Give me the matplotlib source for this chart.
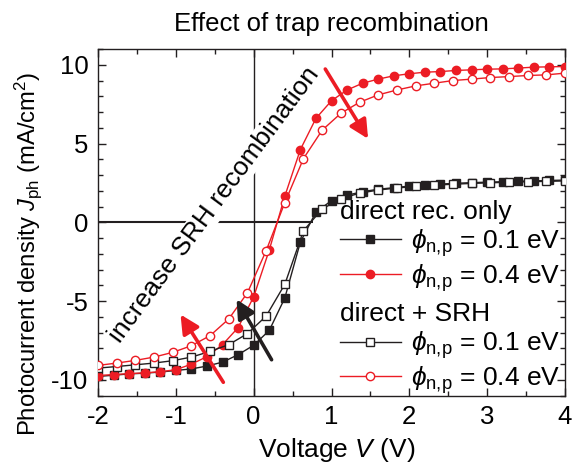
import matplotlib
matplotlib.use("Agg")
import matplotlib.pyplot as plt
import numpy as np

plt.rcParams['font.family'] = ['Liberation Sans', 'DejaVu Sans']
plt.rcParams['mathtext.fontset'] = 'custom'
plt.rcParams['mathtext.rm'] = 'Liberation Sans'
plt.rcParams['mathtext.it'] = 'Liberation Sans:italic'
plt.rcParams['axes.unicode_minus'] = False

RED = '#ec1c24'
BLACK = '#231f20'

# direct recombination only, 0.2 V steps
v_direct = np.round(np.arange(-2.0, 4.01, 0.2), 2)
j_direct_01 = [-9.78, -9.70, -9.62, -9.57, -9.50, -9.40, -9.30, -9.12, -8.87, -8.40,
               -7.80, -6.86, -4.80, -1.25, 0.65, 1.38, 1.72, 1.95, 2.10, 2.20,
               2.30, 2.37, 2.43, 2.48, 2.52, 2.55, 2.58, 2.61, 2.63, 2.66, 2.68]
j_direct_04 = [-9.72, -9.66, -9.60, -9.55, -9.48, -9.35, -9.00, -8.52, -7.76, -6.68,
               -4.72, -1.76, 1.66, 4.62, 6.60, 7.72, 8.40, 8.83, 9.09, 9.30,
               9.43, 9.53, 9.57, 9.64, 9.68, 9.72, 9.74, 9.79, 9.85, 9.87, 9.89]

# direct + SRH, 0.24 V steps
v_srh = np.round(np.arange(-2.0, 4.01, 0.24), 2)
j_srh_01 = [-9.25, -9.15, -9.04, -8.93, -8.78, -8.55, -8.19, -7.76, -7.06, -5.95,
            -3.93, -0.53, 0.85, 1.50, 1.85, 2.05, 2.18, 2.28, 2.36, 2.42,
            2.47, 2.51, 2.55, 2.58, 2.60, 2.63]
j_srh_04 = [-9.08, -8.93, -8.76, -8.55, -8.25, -7.83, -7.19, -6.13, -4.47, -1.80,
            1.25, 4.05, 5.85, 6.92, 7.62, 8.09, 8.40, 8.66, 8.83, 9.00,
            9.09, 9.19, 9.25, 9.32, 9.36, 9.47]

fig = plt.figure(figsize=(5.78, 4.66), dpi=100)
ax = fig.add_axes([0.1696, 0.1509, 0.8079, 0.7439])

# zero lines
ax.axvline(0, color=BLACK, lw=1.0, zorder=1)
ax.axhline(0, color=BLACK, lw=1.5, zorder=1)

ms = 6
l1, = ax.plot(v_direct, j_direct_01, '-s', color=BLACK, ms=ms, lw=1.0,
              mfc=BLACK, mec=BLACK, zorder=3)
l2, = ax.plot(v_direct, j_direct_04, '-o', color=RED, ms=ms, lw=1.0,
              mfc=RED, mec=RED, zorder=3)
l3, = ax.plot(v_srh, j_srh_01, '-s', color=BLACK, ms=ms, lw=1.0,
              mfc='white', mec=BLACK, mew=1.0, zorder=3)
l4, = ax.plot(v_srh, j_srh_04, '-o', color=RED, ms=ms, lw=1.0,
              mfc='white', mec=RED, mew=1.0, zorder=3)

ax.set_xlim(-2, 4)
ax.set_ylim(-11, 11)
ax.set_xticks([-2, -1, 0, 1, 2, 3, 4])
ax.set_xticks(np.arange(-2, 4.01, 0.5), minor=True)
ax.set_yticks([-10, -5, 0, 5, 10])
ax.set_yticks(np.arange(-11, 11.01, 1), minor=True)
ax.tick_params(which='both', direction='in', top=True, right=True,
               labelsize=18.5, width=1.0, color=BLACK)
ax.tick_params(which='major', length=6, pad=7)
ax.tick_params(which='minor', length=3.5)
for s in ax.spines.values():
    s.set_linewidth(1.0)
    s.set_color(BLACK)

ax.set_xlabel('Voltage $V$ (V)', fontsize=19)
ax.set_ylabel('Photocurrent density $J_{\\mathrm{ph}}$ (mA/cm$^2$)', fontsize=17.2)
ax.xaxis.set_label_coords(0.51, -0.115)
ax.yaxis.set_label_coords(-0.116, 0.41)
ax.set_title('Effect of trap recombination', fontsize=18.5, pad=13)

ax.text(-0.5, 1.1, 'increase SRH recombination', fontsize=19, rotation=53.5,
        ha='center', va='center', rotation_mode='anchor', zorder=2,
        bbox=dict(facecolor='white', edgecolor='none', pad=1))

# arrows
aprops = dict(arrowstyle='-|>', lw=2.6, mutation_scale=28, shrinkA=0, shrinkB=0)
ax.annotate('', xy=(1.47, 5.3), xytext=(0.92, 9.73),
            arrowprops=dict(color=RED, **aprops), zorder=4)
ax.annotate('', xy=(-0.94, -5.85), xytext=(-0.39, -10.15),
            arrowprops=dict(color=RED, **aprops), zorder=4)
ax.annotate('', xy=(-0.22, -4.89), xytext=(0.23, -8.72),
            arrowprops=dict(color=BLACK, **aprops), zorder=4)

lab = '$\\phi_{\\mathrm{n{,}p}}$ = %s eV'
leg_kw = dict(fontsize=19, title_fontsize=19, alignment='left', numpoints=1,
              handlelength=2.3, handletextpad=0.4, labelspacing=0.12,
              borderpad=0.0, borderaxespad=0.0, frameon=False, loc='upper left')
leg1 = ax.legend([l1, l2], [lab % '0.1', lab % '0.4'], title='direct rec. only',
                 bbox_to_anchor=(0.518, 0.565), **leg_kw)
ax.add_artist(leg1)
leg2 = ax.legend([l3, l4], [lab % '0.1', lab % '0.4'], title='direct + SRH',
                 bbox_to_anchor=(0.518, 0.27), **leg_kw)

# white patch behind first legend hides the zero line, as in the reference
fig.canvas.draw()
bb = leg1.get_window_extent().transformed(ax.transAxes.inverted())
ax.axhspan(-0.6, 0.6, xmin=bb.x0 - 0.057, xmax=0.999, color='white', zorder=1.5, lw=0)

fig.savefig('out.png', dpi=100)
